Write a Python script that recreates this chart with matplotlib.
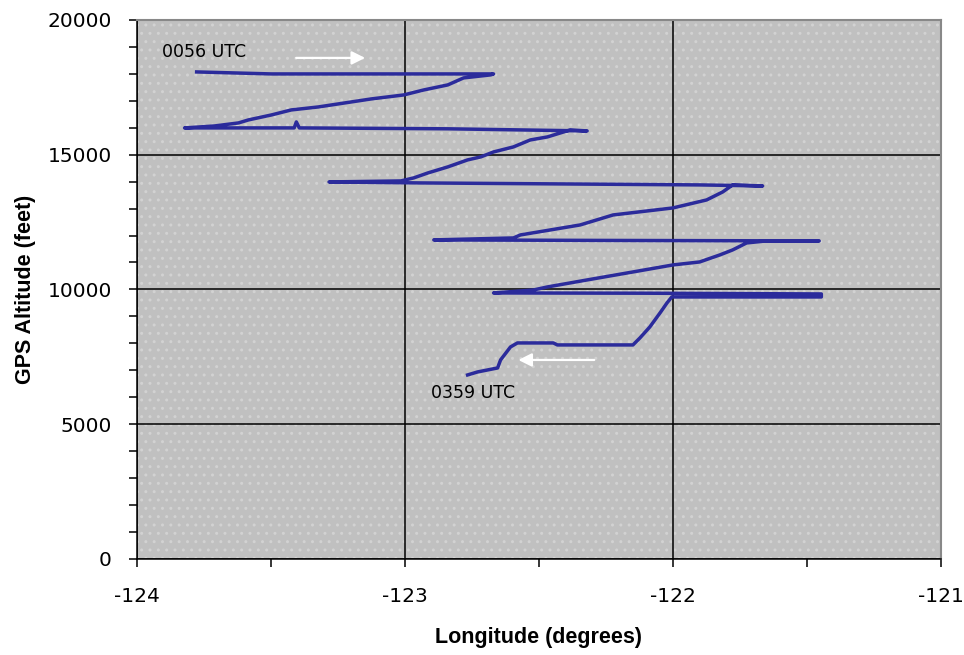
import numpy as np
import matplotlib.pyplot as plt
from matplotlib.patches import Rectangle

plt.rcParams['font.family'] = ['DejaVu Sans']
plt.rcParams['axes.unicode_minus'] = False

# flight track (0056 UTC -> 0359 UTC)
lon = [-123.777, -123.498, -122.669, -122.680, -122.781, -122.840, -122.929,
       -123.004, -123.126, -123.323, -123.424, -123.498, -123.584, -123.621,
       -123.710, -123.822,
       -123.413, -123.405, -123.394, -122.840, -122.320,
       -122.383, -122.468, -122.532, -122.595, -122.669, -122.717, -122.766,
       -122.840, -122.914, -122.967, -123.015, -123.283,
       -122.941, -122.420, -121.900, -121.665,
       -121.777, -121.814, -121.874, -122.000, -122.223, -122.346, -122.569,
       -122.595, -122.892,
       -122.300, -121.454,
       -121.528, -121.651, -121.725, -121.777, -121.825, -121.900, -122.000,
       -122.149, -122.320, -122.468, -122.520, -122.669,
       -122.100, -121.446, -121.446, -121.900, -122.004,
       -122.022, -122.048, -122.086, -122.123, -122.149, -122.431, -122.446,
       -122.580, -122.606, -122.643, -122.654, -122.729, -122.766]
alt = [18070, 17996, 17996, 17960, 17848, 17588, 17403,
       17217, 17068, 16771, 16660, 16474, 16289, 16178,
       16066, 15993,
       15993, 16215, 15993, 15960, 15881,
       15919, 15659, 15547, 15288, 15102, 14917, 14806,
       14546, 14323, 14138, 14026, 13989,
       13952, 13915, 13878, 13840,
       13878, 13618, 13321, 13024, 12764, 12393, 12022,
       11911, 11838,
       11820, 11800,
       11800, 11800, 11725, 11466, 11280, 11020, 10909,
       10649, 10353, 10093, 9981, 9870,
       9860, 9833, 9722, 9722, 9722,
       9499, 9128, 8609, 8200, 7941, 7941, 8015,
       8015, 7866, 7384, 7087, 6939, 6828]

x_ticks = [-124, -123, -122, -121]
y_ticks = [0, 5000, 10000, 15000, 20000]

fig = plt.figure(figsize=(9.64, 6.55), dpi=100)
ax = fig.add_axes([0.142, 0.1466, 0.834, 0.823])

ax.set_facecolor('#c0c0c0')
ax.add_patch(Rectangle((0, 0), 1, 1, transform=ax.transAxes, facecolor='none',
                       edgecolor='#d2d2d2', hatch='..', linewidth=0, zorder=0))

ax.set_xlim(-124, -121)
ax.set_ylim(0, 20000)
ax.set_xticks(x_ticks)
ax.set_yticks(y_ticks)
ax.set_xticks(np.arange(-124, -120.9, 0.5), minor=True)
ax.set_yticks(np.arange(0, 20001, 1000), minor=True)
ax.grid(True, which='major', color='black', linewidth=1.1, zorder=1)
ax.set_axisbelow(True)

ax.plot(lon, alt, color='#2b2b9b', linewidth=2.5, zorder=3)

ax.text(-123.907, 18813, '0056 UTC', fontsize=12.5, va='center', ha='left')
ax.annotate('', xy=(-123.138, 18590), xytext=(-123.416, 18590),
            arrowprops=dict(arrowstyle='-|>', color='white', lw=1.6,
                            mutation_scale=20))
ax.text(-122.903, 6160, '0359 UTC', fontsize=12.5, va='center', ha='left')
ax.annotate('', xy=(-122.587, 7384), xytext=(-122.283, 7384),
            arrowprops=dict(arrowstyle='-|>', color='white', lw=1.6,
                            mutation_scale=20))

for s in ['top', 'right']:
    ax.spines[s].set_color('#888888')
    ax.spines[s].set_linewidth(1.5)
for s in ['left', 'bottom']:
    ax.spines[s].set_color('black')
    ax.spines[s].set_linewidth(1.1)

ax.tick_params(which='both', direction='out', color='black', width=1.1, length=6)
ax.tick_params(which='major', labelsize=14.5)
ax.tick_params(axis='y', which='major', pad=12)
ax.tick_params(axis='x', which='major', pad=14)

ax.set_xlabel('Longitude (degrees)', fontsize=15.5, fontweight='bold',
              family=['Liberation Sans', 'DejaVu Sans'], labelpad=15)
ax.set_ylabel('GPS Altitude (feet)', fontsize=15.5, fontweight='bold',
              family=['Liberation Sans', 'DejaVu Sans'], labelpad=8)

fig.savefig('out.png', dpi=100)
